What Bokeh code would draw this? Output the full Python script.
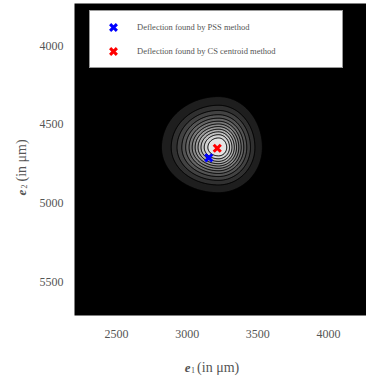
import numpy as np
from bokeh.plotting import figure
from bokeh.layouts import row, column
from bokeh.models import Range1d, Label, FixedTicker
from bokeh.embed import file_html
from bokeh.resources import INLINE

# Axis extents and ticks (µm); e2 grows downward
x_limits = [2203, 4269]
y_limits = [3733, 5716]
x_ticks = [2500, 3000, 3500, 4000]
y_ticks = [4000, 4500, 5000, 5500]

# Intensity spot: centre and split widths (left, right, up, down) in µm
spot_center = [3222, 4648]
spot_widths = [156, 120, 125, 111]

# Normalised-intensity contour levels
levels = [0.035, 0.1, 0.17, 0.25, 0.33, 0.41, 0.49, 0.57, 0.65, 0.73, 0.81, 0.89, 1.01]

# Deflection estimates (e1, e2) in µm
pss_point = [3153, 4714]
cs_point = [3213, 4653]

SERIF = "Liberation Serif"
TEXT = "#555555"

YLAB_W = 35      # strip holding the e2 title
XLAB_H = 30      # strip holding the e1 title
MAIN_W = 366 - YLAB_W
MAIN_H = 379 - XLAB_H

p = figure(width=MAIN_W, height=MAIN_H, output_backend="svg", toolbar_location=None,
           x_range=Range1d(*x_limits), y_range=Range1d(y_limits[1], y_limits[0]),
           min_border_left=74 - YLAB_W, min_border_right=0, min_border_top=3,
           min_border_bottom=MAIN_H - 315)
p.background_fill_color = "black"
p.border_fill_color = "white"
p.outline_line_color = None
p.grid.visible = False

# Intensity map on a regular grid
gx = np.arange(2600, 3800, 4.0)
gy = np.arange(4150, 5150, 4.0)
X, Y = np.meshgrid(gx, gy)
dx = X - spot_center[0]
dy = Y - spot_center[1]
sx = np.where(dx < 0, spot_widths[0], spot_widths[1])
sy = np.where(dy < 0, spot_widths[2], spot_widths[3])
Z = np.exp(-0.5 * ((dx / sx) ** 2 + (dy / sy) ** 2))

n_bands = len(levels) - 1
greys = np.linspace(30, 228, n_bands).astype(int)
palette = ["#%02x%02x%02x" % (g, g, g) for g in greys]
p.contour(gx, gy, Z, levels, fill_color=palette, line_color="black", line_width=1)

p.scatter(x=[pss_point[0]], y=[pss_point[1]], marker="x", size=10,
          line_color="blue", line_width=3, legend_label="Deflection found by PSS method")
p.scatter(x=[cs_point[0]], y=[cs_point[1]], marker="x", size=10,
          line_color="red", line_width=3, legend_label="Deflection found by CS centroid method")

# Axes: tick labels only
for ax in (p.xaxis[0], p.yaxis[0]):
    ax.axis_line_color = None
    ax.major_tick_line_color = None
    ax.minor_tick_line_color = None
    ax.major_tick_out = 0
    ax.major_tick_in = 0
    ax.minor_tick_out = 0
    ax.minor_tick_in = 0
    ax.major_label_text_font = SERIF
    ax.major_label_text_font_size = "12px"
    ax.major_label_text_color = TEXT
p.xaxis[0].ticker = FixedTicker(ticks=x_ticks)
p.yaxis[0].ticker = FixedTicker(ticks=y_ticks)
p.xaxis[0].major_label_standoff = 14
p.yaxis[0].major_label_standoff = 11

leg = p.legend[0]
leg.location = (15, 247)
leg.margin = 0
leg.padding = 4
leg.spacing = 0
leg.glyph_width = 38
leg.glyph_height = 24
leg.label_height = 24
leg.label_width = 201
leg.label_standoff = 5
leg.label_text_font = SERIF
leg.label_text_font_size = "8.5px"
leg.label_text_color = "#555555"
leg.border_line_color = "#333333"
leg.border_line_width = 1.5
leg.background_fill_color = "white"
leg.background_fill_alpha = 1.0


def text_strip(w, h):
    f = figure(width=w, height=h, output_backend="svg", toolbar_location=None,
               x_range=Range1d(0, w), y_range=Range1d(0, h), min_border=0,
               x_axis_location=None, y_axis_location=None)
    f.grid.visible = False
    f.outline_line_color = None
    f.background_fill_color = "white"
    f.border_fill_color = "white"
    return f


def title_part(f, text, x, y, size, style="normal", angle=0.0):
    f.add_layout(Label(x=x, y=y, text=text, text_font=SERIF, text_font_size=size,
                       text_font_style=style, text_color=TEXT,
                       text_baseline="alphabetic", angle=angle))


# e1 title below the plot
xt = text_strip(MAIN_W, XLAB_H)
title_part(xt, "e", 125, 12, "13px", "bold italic")
title_part(xt, "1", 132, 9.5, "8px")
title_part(xt, "(in μm)", 139, 12, "14px")

# e2 title left of the plot, reading upward
yt = text_strip(YLAB_W, 379)
title_part(yt, "e", 21, 184, "13px", "bold italic", np.pi / 2)
title_part(yt, "2", 23.5, 191, "8px", "normal", np.pi / 2)
title_part(yt, "(in μm)", 21, 198, "14px", "normal", np.pi / 2)

layout = row(yt, column(p, xt))

open("out.html", "w").write(file_html(layout, INLINE))
